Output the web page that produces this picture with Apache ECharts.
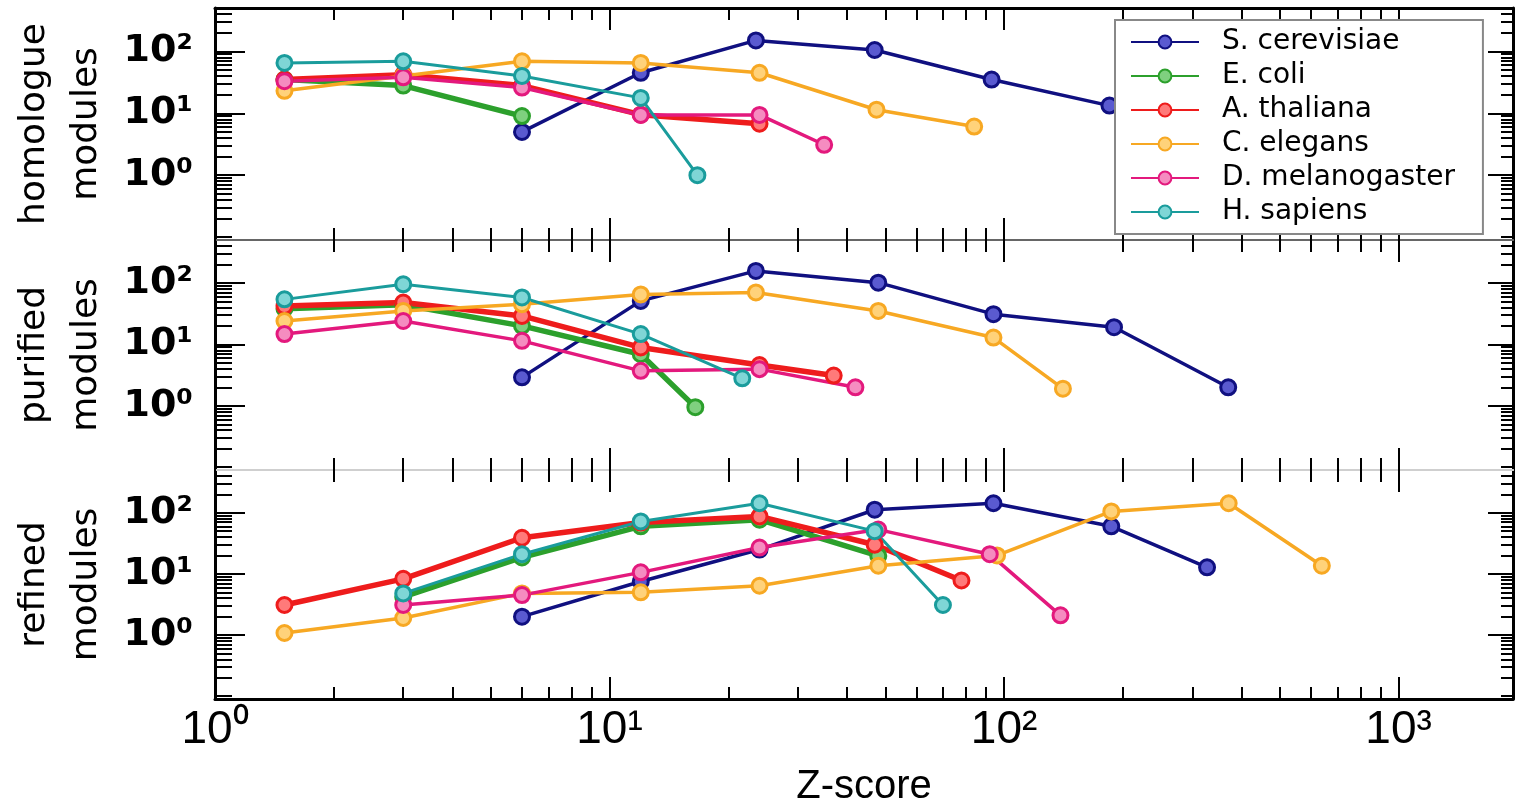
<!DOCTYPE html>
<html>
<head>
<meta charset="utf-8">
<script src="https://cdn.jsdelivr.net/npm/echarts@6/dist/echarts.min.js"></script>
<style>
html, body { margin: 0; padding: 0; background: #fff; }
#chart { width: 1518px; height: 808px; }
</style>
</head>
<body>
<div id="chart"></div>
<script>
var speciesNames = ['S. cerevisiae', 'E. coli', 'A. thaliana', 'C. elegans', 'D. melanogaster', 'H. sapiens'];
var speciesColors = ['#101080', '#2ca02c', '#ee1c1c', '#f7a823', '#e3197d', '#1a9c9c'];
var speciesFills = ['#5a5ad0', '#7fd07f', '#ff7a7a', '#ffd27a', '#f58cc0', '#7fd6d6'];
var speciesWidths = [3.5, 5.5, 5.5, 3.5, 3.5, 3];
var panelNames = ['homologue\nmodules', 'purified\nmodules', 'refined\nmodules'];

var xMajorTicks = [1, 10, 100, 1000];
var xMinorTicks = [2, 3, 4, 5, 6, 7, 8, 9, 20, 30, 40, 50, 60, 70, 80, 90, 200, 300, 400, 500, 600, 700, 800, 900];
var xTickLabels = ['10⁰', '10¹', '10²', '10³'];
var yMajorTicks = [1, 10, 100];
var yMinorTicks = [0.1, 0.2, 0.3, 0.4, 0.5, 0.6, 0.7, 0.8, 0.9, 2, 3, 4, 5, 6, 7, 8, 9, 20, 30, 40, 50, 60, 70, 80, 90, 200, 300, 400];
var yTickLabels = ['10⁰', '10¹', '10²'];

// homologue modules  [Z-score, count]
var homScer = [[6, 5], [12, 45], [23.5, 150], [47, 105], [93, 35], [185, 13.3]];
var homEcoli = [[1.5, 35], [3, 28], [6, 9]];
var homAthal = [[1.5, 35], [3, 42], [6, 28], [12, 9.5], [24, 6.8]];
var homCeleg = [[1.5, 23], [3, 40], [6, 69], [12, 65], [24, 45], [47.5, 11.4], [84, 6.1]];
var homDmel = [[1.5, 33], [3, 38], [6, 26], [12, 9.4], [24, 9.4], [35, 3.1]];
var homHsap = [[1.5, 65], [3, 69], [6, 40], [12, 17.7], [16.7, 1.0]];

// purified modules
var purScer = [[6, 2.9], [12, 51], [23.5, 157], [48, 101], [94, 31], [190, 19], [370, 2.0]];
var purEcoli = [[1.5, 38], [3, 44], [6, 20], [12, 6.9], [16.5, 0.95]];
var purAthal = [[1.5, 42], [3, 48], [6, 29], [12, 8.9], [24, 4.6], [37, 3.1]];
var purCeleg = [[1.5, 24], [3, 35], [6, 45], [12, 65], [23.5, 70], [48, 35], [94, 12.9], [141, 1.9]];
var purDmel = [[1.5, 14.7], [3, 24], [6, 11.4], [12, 3.7], [24, 3.95], [42, 2.0]];
var purHsap = [[1.5, 54], [3, 95], [6, 58], [12, 14.7], [21.7, 2.8]];

// refined modules
var refScer = [[6, 2.0], [12, 7.5], [24, 25], [47, 112], [94, 143], [187, 60], [327, 12.8]];
var refEcoli = [[3, 4.2], [6, 18.6], [12, 60], [24, 77], [48, 19.7]];
var refAthal = [[1.5, 3.1], [3, 8.3], [6, 39], [12, 69], [24, 87], [47, 30], [78, 7.8]];
var refCeleg = [[1.5, 1.08], [3, 1.9], [6, 4.8], [12, 5.0], [24, 6.4], [48, 13.6], [96, 20], [187, 105], [371, 143], [639, 13.6]];
var refDmel = [[3, 3.1], [6, 4.5], [12, 10.6], [24, 27], [48, 53], [92, 21], [139, 2.1]];
var refHsap = [[3, 4.8], [6, 21], [12, 72], [24, 143], [47, 50], [70, 3.1]];

var panelData = [
    [homScer, homEcoli, homAthal, homCeleg, homDmel, homHsap],
    [purScer, purEcoli, purAthal, purCeleg, purDmel, purHsap],
    [refScer, refEcoli, refAthal, refCeleg, refDmel, refHsap]
];

var gridTops = [8, 240, 470];
var gridHeights = [232, 230, 229];

function labelFor(list) {
    return function (v) {
        var i = Math.round(Math.log10(v));
        return list[i] || '';
    };
}

// colour of the line between two panels
function sepColor(g, position) {
    if ((g === 0 && position === 'bottom') || (g === 1 && position === 'top')) return '#666';
    return '#cfcfcf';
}

var chart = echarts.init(document.getElementById('chart'));
var grids = [], xAxes = [], yAxes = [], series = [];

for (var g = 0; g < 3; g++) {
    grids.push({ left: 215, right: 5, top: gridTops[g], height: gridHeights[g], show: false });

    ['bottom', 'top'].forEach(function (pos) {
        var outer = (g === 0 && pos === 'top') || (g === 2 && pos === 'bottom');
        var withLabel = (g === 2 && pos === 'bottom');
        [true, false].forEach(function (major) {
            xAxes.push({
                type: 'log', logBase: 10, gridIndex: g, position: pos,
                min: 1, max: 1950,
                name: (withLabel && major) ? 'Z-score' : '',
                nameLocation: 'middle', nameGap: 68,
                nameTextStyle: { fontFamily: 'Liberation Sans', fontSize: 40, color: '#000' },
                axisLine: { show: major, onZero: false, lineStyle: { color: outer ? '#000' : sepColor(g, pos), width: outer ? 3 : 2 } },
                axisTick: { show: true, inside: true, length: major ? 22 : 12, customValues: major ? xMajorTicks : xMinorTicks, lineStyle: { color: '#000', width: 2 } },
                axisLabel: {
                    show: withLabel && major, customValues: xMajorTicks, margin: 8,
                    fontFamily: 'Liberation Sans', fontSize: 46, color: '#000',
                    formatter: labelFor(xTickLabels)
                },
                splitLine: { show: false }
            });
        });
    });

    ['left', 'right'].forEach(function (pos) {
        [true, false].forEach(function (major) {
            var isLeft = pos === 'left';
            yAxes.push({
                type: 'log', logBase: 10, gridIndex: g, position: pos,
                min: 0.09, max: 500,
                name: (isLeft && major) ? panelNames[g] : '',
                nameLocation: 'middle', nameRotate: 90, nameGap: 102,
                nameTextStyle: { fontFamily: 'DejaVu Sans', fontSize: 36, lineHeight: 52, color: '#000' },
                axisLine: { show: major, onZero: false, lineStyle: { color: '#000', width: 3 } },
                axisTick: {
                    show: true, inside: true,
                    length: isLeft ? (major ? 30 : 17) : (major ? 25 : 12),
                    customValues: major ? yMajorTicks : yMinorTicks,
                    lineStyle: { color: '#000', width: 2 }
                },
                axisLabel: {
                    show: isLeft && major, customValues: yMajorTicks, margin: 22,
                    fontFamily: 'DejaVu Sans', fontWeight: 'bold', fontSize: 38, color: '#000',
                    formatter: labelFor(yTickLabels)
                },
                splitLine: { show: false }
            });
        });
    });

    for (var s = 0; s < speciesNames.length; s++) {
        series.push({
            name: speciesNames[s],
            type: 'line',
            xAxisIndex: 4 * g,
            yAxisIndex: 4 * g,
            data: panelData[g][s],
            symbol: 'circle',
            symbolSize: 15,
            lineStyle: { color: speciesColors[s], width: speciesWidths[s] },
            itemStyle: { color: speciesFills[s], borderColor: speciesColors[s], borderWidth: 3 },
            emphasis: { disabled: true }
        });
    }
}

chart.setOption({
    animation: false,
    backgroundColor: '#fff',
    grid: grids,
    xAxis: xAxes,
    yAxis: yAxes,
    legend: {
        data: speciesNames,
        orient: 'vertical',
        left: 1115, top: 20,
        padding: [8, 28, 8, 15],
        itemWidth: 68, itemHeight: 16, itemGap: 6,
        backgroundColor: '#fff',
        borderColor: '#888', borderWidth: 2,
        textStyle: { fontFamily: 'DejaVu Sans', fontSize: 28, color: '#000', padding: [0, 0, 0, 18] }
    },
    series: series
});

window.addEventListener('resize', function () {
    chart.resize();
});
</script>
</body>
</html>
